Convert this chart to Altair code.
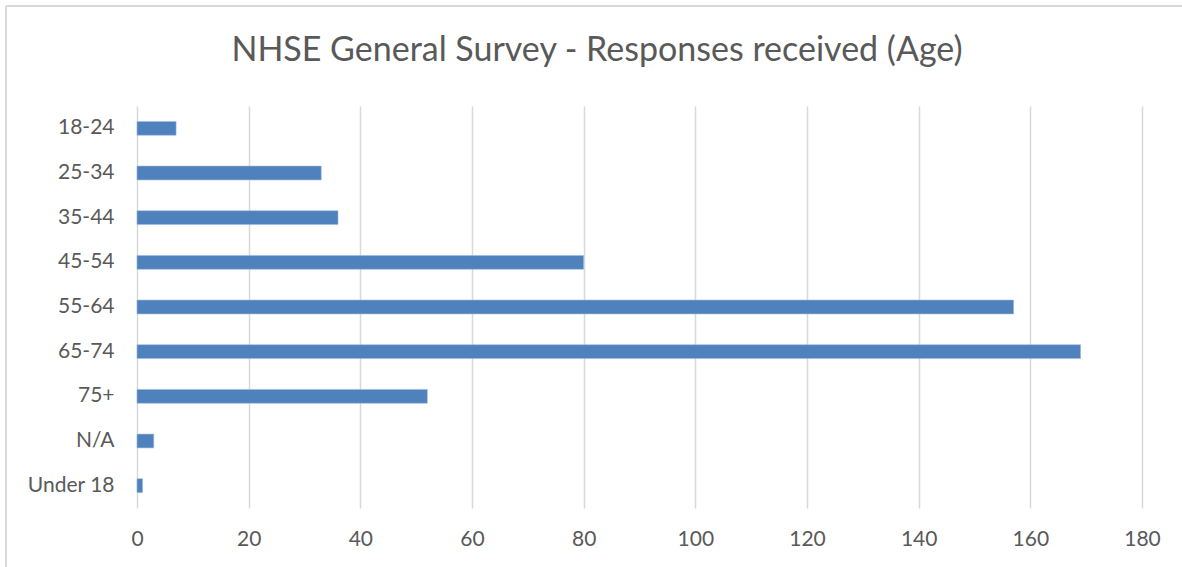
import altair as alt
import pandas as pd

# Survey responses by age band
age_groups = ["18-24", "25-34", "35-44", "45-54", "55-64", "65-74", "75+", "N/A", "Under 18"]
responses = [7, 33, 36, 80, 157, 169, 52, 3, 1]
x_ticks = [0, 20, 40, 60, 80, 100, 120, 140, 160, 180]
title_text = "NHSE General Survey - Responses received (Age)"

df = pd.DataFrame({"age": age_groups, "responses": responses})

FONT = "Lato"
TEXT = "#595959"

bars = alt.Chart(df).mark_bar(color="#4F81BD", stroke="#9DBBE0", strokeWidth=0.6).encode(
    x=alt.X(
        "responses:Q",
        scale=alt.Scale(domain=[0, 180], nice=False),
        axis=alt.Axis(
            values=x_ticks, title=None, domain=False, ticks=False,
            grid=True, gridColor="#D9D9D9", gridWidth=1.5,
            labelFontSize=21, labelColor=TEXT, labelFont=FONT, labelPadding=20,
            labelFlush=False,
        ),
    ),
    y=alt.Y(
        "age:N",
        sort=age_groups,
        scale=alt.Scale(paddingInner=0.69, paddingOuter=0.345),
        axis=alt.Axis(
            title=None, domain=False, ticks=False, grid=False,
            labelFontSize=21, labelColor=TEXT, labelFont=FONT, labelPadding=23,
        ),
    ),
)

# Thin outer frame along the top and left edges
frame_top = alt.Chart(df).mark_rule(color="#D9D9D9", strokeWidth=1.5).encode(
    x=alt.value(-131), x2=alt.value(1100), y=alt.value(-100)
)
frame_left = alt.Chart(df).mark_rule(color="#D9D9D9", strokeWidth=1.5).encode(
    x=alt.value(-131), y=alt.value(-100), y2=alt.value(520)
)

# Chart heading, centred on the whole figure
heading = alt.Chart(pd.DataFrame({"t": [title_text]})).mark_text(
    font=FONT, fontSize=34, color=TEXT, align="center", baseline="middle"
).encode(text="t:N", x=alt.value(460), y=alt.value(-55))

chart = alt.layer(frame_top, frame_left, bars, heading).properties(
    width=1005,
    height=402,
    background="white",
    autosize=alt.AutoSizeParams(type="none"),
    padding={"left": 137, "top": 106, "right": 40, "bottom": 59},
).configure_view(strokeWidth=0, stroke="transparent")

chart.save("out.html", embed_options={"renderer": "svg", "actions": False})
